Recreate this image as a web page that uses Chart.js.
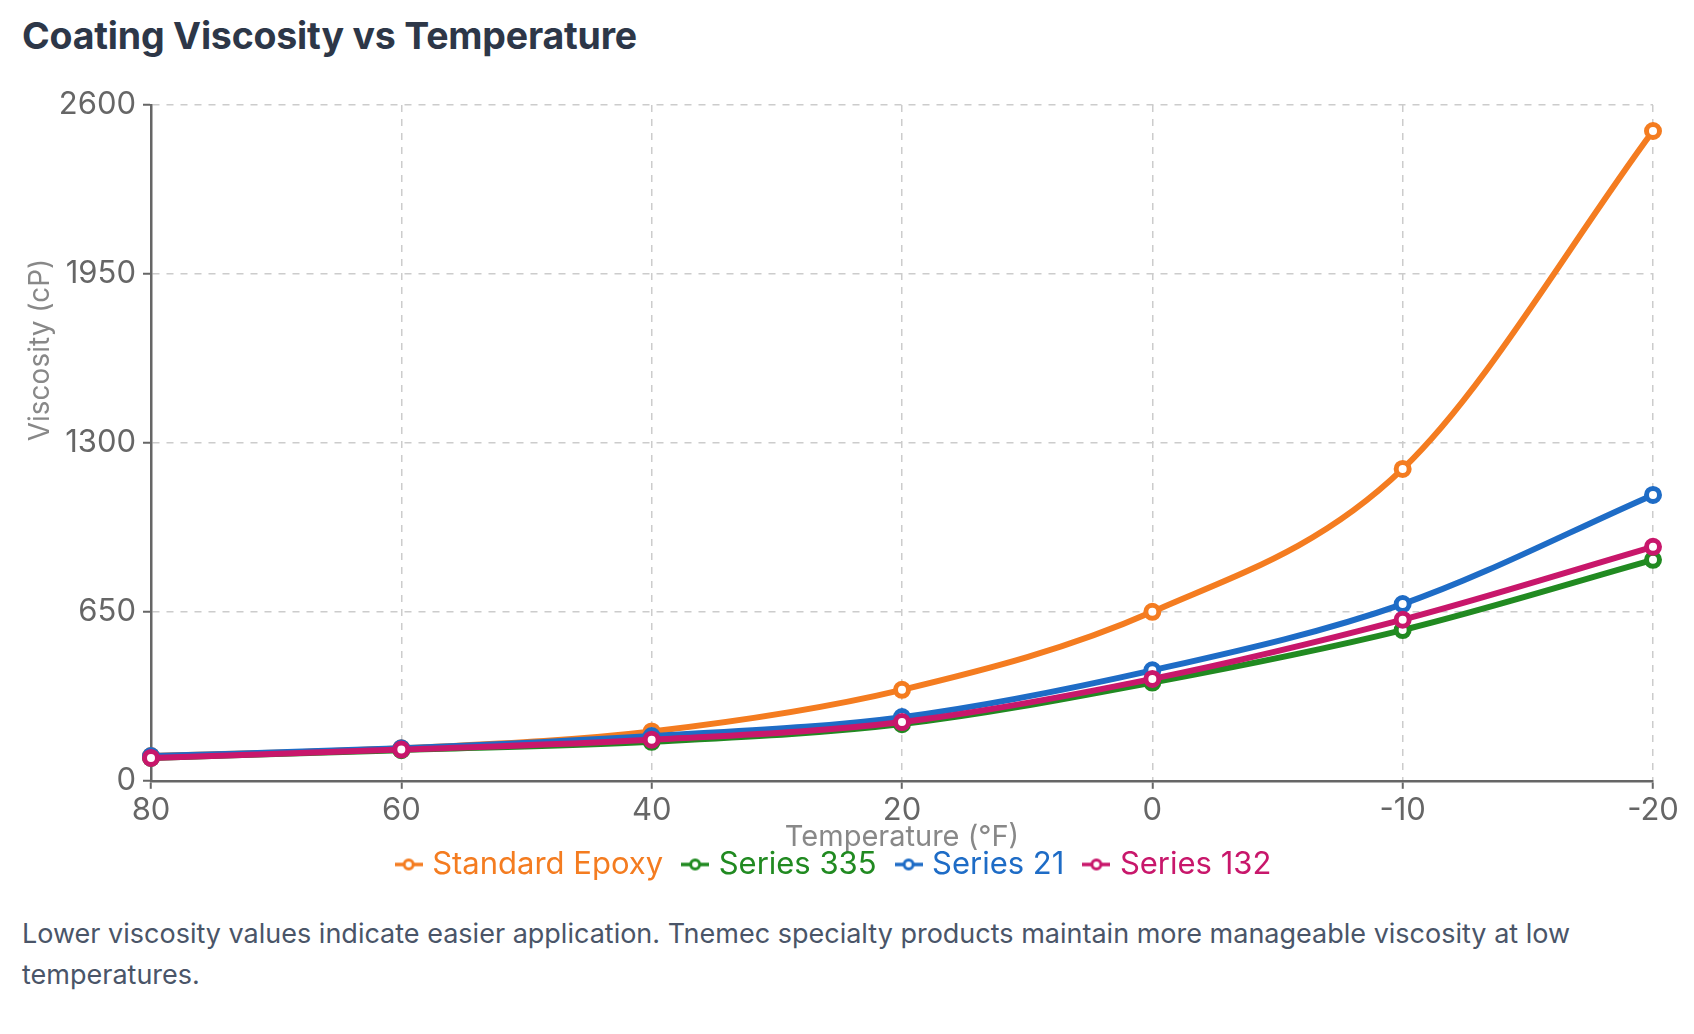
<!DOCTYPE html>
<html>
<head>
<meta charset="utf-8">
<script src="https://cdn.jsdelivr.net/npm/chart.js@4/dist/chart.umd.min.js"></script>
<style>
  html, body { margin: 0; padding: 0; background: #fff; }
  body { width: 1694px; height: 1034px; position: relative; overflow: hidden; font-family: Inter, "Noto Sans", sans-serif; }
  #title { position: absolute; left: 22px; top: 14px; font-size: 37.5px; font-weight: 700; color: #2d3748; line-height: 44px; margin: 0; letter-spacing: -0.2px; }
  #wrap { position: absolute; left: 0; top: 70px; width: 1694px; height: 820px; }
  #caption { position: absolute; left: 22px; top: 913px; font-size: 27px; line-height: 41px; color: #4a5568; margin: 0; }
</style>
</head>
<body>
<h2 id="title">Coating Viscosity vs Temperature</h2>
<div id="wrap"><canvas id="viscosity_chart"></canvas></div>
<p id="caption">Lower viscosity values indicate easier application. Tnemec specialty products maintain more manageable viscosity at low<br>temperatures.</p>
<script>
// temperatures in °F, read left to right off the chart
const temps = ["80", "60", "40", "20", "0", "-10", "-20"];
const yTicks = [0, 650, 1300, 1950, 2600];

// viscosity in cP
const standardEpoxy = [95, 125, 190, 350, 650, 1200, 2500];
const series335 = [88, 118, 150, 218, 378, 580, 850];
const series21 = [95, 125, 172, 245, 425, 680, 1100];
const series132 = [88, 120, 158, 226, 392, 620, 900];

const seriesNames = ["Standard Epoxy", "Series 335", "Series 21", "Series 132"];
const seriesColors = ["#f47c20", "#218a21", "#1e6cc6", "#c8176b"];
const seriesData = [standardEpoxy, series335, series21, series132];

const yTitle = "Viscosity (cP)";

// little line-with-circle marker for the legend
function legendIcon(color) {
  const c = document.createElement("canvas");
  c.width = 28;
  c.height = 14;
  const g = c.getContext("2d");
  g.strokeStyle = color;
  g.lineWidth = 3.5;
  g.beginPath();
  g.moveTo(0, 7);
  g.lineTo(28, 7);
  g.stroke();
  g.fillStyle = "#fff";
  g.lineWidth = 3;
  g.beginPath();
  g.arc(14, 7, 4.5, 0, Math.PI * 2);
  g.fill();
  g.stroke();
  return c;
}

// y title sits a bit above the middle, overlapping the tick column like the original
const yTitlePlugin = {
  id: "yTitle",
  afterDraw(chart) {
    const { ctx, chartArea } = chart;
    ctx.save();
    ctx.translate(41, chartArea.top + 245);
    ctx.rotate(-Math.PI / 2);
    ctx.font = "28px Inter, 'Noto Sans', sans-serif";
    ctx.fillStyle = "#888";
    ctx.textAlign = "center";
    ctx.textBaseline = "middle";
    ctx.fillText(yTitle, 0, 0);
    ctx.restore();
  },
};

const datasets = seriesNames.map((name, i) => ({
  label: name,
  data: seriesData[i],
  borderColor: seriesColors[i],
  backgroundColor: seriesColors[i],
  pointBackgroundColor: "#fff",
  pointBorderColor: seriesColors[i],
  borderWidth: 6,
  pointRadius: 6.5,
  pointBorderWidth: 5,
  cubicInterpolationMode: "monotone",
  fill: false,
  order: seriesNames.length - i, // later series sit on top
}));

Chart.defaults.font.family = "Inter, 'Noto Sans', sans-serif";

new Chart(document.getElementById("viscosity_chart"), {
  type: "line",
  data: { labels: temps, datasets },
  plugins: [yTitlePlugin],
  options: {
    responsive: true,
    maintainAspectRatio: false,
    animation: false,
    devicePixelRatio: 1,
    layout: { padding: { left: 19, right: 41, top: 35, bottom: 0 } },
    plugins: {
      tooltip: { enabled: false },
      legend: {
        position: "bottom",
        labels: {
          usePointStyle: true,
          pointStyleWidth: 16,
          padding: 24,
          font: { size: 31 },
          generateLabels: chart => chart.data.datasets.map((ds, i) => ({
            text: ds.label,
            fontColor: ds.borderColor,
            fillStyle: ds.borderColor,
            strokeStyle: ds.borderColor,
            lineWidth: 0,
            pointStyle: legendIcon(ds.borderColor),
            hidden: false,
            datasetIndex: i,
          })),
        },
      },
    },
    scales: {
      x: {
        offset: false,
        grid: { color: "#cccccc", lineWidth: 1.5, tickLength: 8, tickColor: "#666", tickWidth: 2 },
        border: { color: "#666", width: 2.5, dash: [7, 7] },
        ticks: { color: "#666", font: { size: 31, lineHeight: 1.2 }, padding: 3, maxRotation: 0 },
        title: {
          display: true,
          text: "Temperature (°F)",
          color: "#888",
          font: { size: 29, lineHeight: 1 },
          padding: { top: -9, bottom: -27 },
        },
      },
      y: {
        min: 0,
        max: 2600,
        afterBuildTicks: axis => { axis.ticks = yTicks.map(v => ({ value: v })); },
        afterFit: axis => { axis.width = 132; },
        grid: { color: "#cccccc", lineWidth: 1.5, tickLength: 8, tickColor: "#666", tickWidth: 2 },
        border: { color: "#666", width: 2.5, dash: [7, 7] },
        ticks: { color: "#666", font: { size: 31, lineHeight: 1.2 }, padding: 7, callback: v => String(v) },
        title: { display: false },
      },
    },
  },
});
</script>
</body>
</html>
